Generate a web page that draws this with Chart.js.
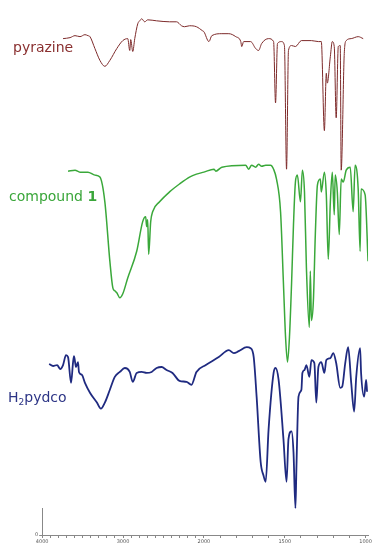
<!DOCTYPE html>
<html lang="en">
<head>
  <meta charset="UTF-8" />
  <title>IR spectra</title>
  <script src="https://cdn.jsdelivr.net/npm/chart.js"></script>
  <style>
    body { margin: 0; padding: 0; background: #fff; }
    #wrap { width: 373px; height: 546px; position: relative; }
  </style>
</head>
<body>
  <div id="wrap"><canvas id="irChart"></canvas></div>

  <script>
    // wavenumbers (cm-1) and relative transmittance (offset, arb. units)
    const pyrazineWn = [3742,3655,3594,3532,3471,3434,3409,3348,3286,3225,3163,3077,3003,2942,2917,2905,2880,2855,2818,2794,2769,2732,2695,2585,2425,2338,2277,2240,2178,2092,2018,2000,1969,1951,1889,1846,1803,1772,1766,1754,1711,1680,1662,1643,1600,1569,1557,1545,1520,1502,1489,1477,1458,1434,1397,1335,1292,1274,1255,1243,1237,1218,1206,1194,1182,1169,1157,1151,1132,1120,1089,1046,1015];
    const pyrazineT  = [95.0,95.2,95.6,95.4,95.8,95.6,95.4,93.0,90.6,89.4,90.6,93.0,94.6,95.0,92.6,94.8,92.4,95.0,98.0,98.6,99.0,98.4,98.8,98.6,98.4,98.4,97.6,97.4,97.6,97.4,96.6,96.4,94.4,95.6,96.0,96.0,95.4,94.4,93.4,94.4,94.4,93.0,92.6,94.0,95.0,94.4,82.0,94.0,94.4,93.6,68.6,92.6,93.6,93.4,94.6,94.6,94.4,94.4,76.4,88.0,86.0,91.4,94.4,93.4,79.0,93.4,93.6,68.4,92.0,94.6,95.0,95.4,95.0];

    const compoundWn = [3680,3594,3532,3434,3348,3286,3225,3163,3126,3102,3077,3040,3003,2942,2831,2757,2720,2708,2695,2683,2658,2634,2548,2425,2302,2178,2092,2000,1938,1926,1889,1742,1723,1705,1680,1662,1643,1618,1588,1569,1551,1526,1508,1495,1483,1471,1458,1446,1434,1422,1403,1391,1378,1366,1348,1342,1335,1323,1311,1298,1280,1274,1255,1243,1231,1218,1206,1194,1188,1175,1163,1151,1138,1120,1095,1077,1065,1046,1034,1028,1003,985];
    const compoundT  = [68.2,68.4,68.0,68.0,67.4,67.0,62.0,50.0,44.6,44.0,43.6,42.6,43.4,46.6,52.0,58.0,59.0,57.0,58.4,51.4,58.0,60.0,62.0,64.0,65.6,67.0,67.6,68.0,68.6,68.2,69.0,69.4,68.6,69.4,69.0,69.6,69.2,69.4,69.4,68.6,66.6,60.0,45.4,34.6,29.6,34.6,45.4,57.4,66.0,67.4,62.0,68.4,64.0,48.6,36.6,48.0,38.0,42.0,55.4,65.4,66.6,64.0,68.0,63.4,50.4,62.0,68.0,59.4,67.4,64.0,55.4,66.6,66.0,68.4,69.0,60.0,69.4,64.6,52.0,64.6,63.4,50.0];

    const ligandWn = [3914,3865,3815,3778,3742,3705,3680,3643,3618,3606,3582,3557,3545,3508,3471,3409,3323,3274,3225,3163,3102,3040,2978,2917,2880,2831,2769,2708,2646,2585,2523,2462,2388,2302,2215,2154,2092,1988,1908,1846,1815,1785,1735,1711,1692,1674,1649,1631,1618,1600,1569,1557,1538,1508,1489,1477,1458,1446,1434,1428,1415,1397,1391,1378,1366,1348,1335,1317,1305,1292,1274,1255,1243,1218,1200,1182,1157,1145,1126,1108,1089,1071,1058,1034,1028,1009,997,991];
    const ligandT  = [29.2,28.8,29.0,28.2,29.0,31.0,30.6,25.4,29.6,30.8,28.6,29.6,27.6,27.0,25.4,23.4,21.4,20.2,21.4,24.0,26.6,27.6,28.4,27.6,25.6,27.4,27.6,27.4,27.6,28.4,28.6,28.0,27.4,25.8,25.6,25.0,27.6,29.0,30.6,32.0,31.4,31.8,32.6,32.4,30.6,22.6,9.4,6.6,5.4,16.0,27.4,28.4,26.0,14.0,5.4,14.0,15.6,11.4,0.0,8.0,22.6,24.0,27.4,28.0,29.0,26.6,30.0,29.4,21.4,28.6,29.6,27.4,30.0,30.4,31.4,29.4,24.4,24.6,29.4,32.6,25.4,19.6,26.6,32.4,27.4,22.6,26.0,23.6];

    const labeledWn = [4000, 3000, 2000, 1500, 1000];

    // x axis has a scale change at 2000 cm-1 (twice as spread below it)
    function toAxis(w) { return w >= 2000 ? 4000 - w : 2000 + 2 * (2000 - w); }
    function fromAxis(u) { return u <= 2000 ? 4000 - u : 2000 - (u - 2000) / 2; }

    function pts(wn, t) { return wn.map((w, i) => ({ x: toAxis(w), y: t[i] })); }

    const seriesLabels = {
      id: 'seriesLabels',
      afterDraw(chart) {
        const c = chart.ctx;
        c.save();
        c.textBaseline = 'alphabetic';
        c.font = '14px "DejaVu Sans"';
        c.fillStyle = '#8a3030';
        c.fillText('pyrazine', 13, 52);

        c.fillStyle = '#3aa63a';
        c.fillText('compound ', 9, 201);
        let w = c.measureText('compound ').width;
        c.font = 'bold 14px "DejaVu Sans"';
        c.fillText('1', 9 + w, 201);

        c.font = '14px "DejaVu Sans"';
        c.fillStyle = '#2d3586';
        c.fillText('H', 8, 402);
        w = c.measureText('H').width;
        c.font = '9px "DejaVu Sans"';
        c.fillText('2', 8 + w, 405);
        const w2 = c.measureText('2').width;
        c.font = '14px "DejaVu Sans"';
        c.fillText('pydco', 8 + w + w2, 402);
        c.restore();
      }
    };

    new Chart(document.getElementById('irChart'), {
      type: 'line',
      data: {
        datasets: [
          { label: 'pyrazine', data: pts(pyrazineWn, pyrazineT), borderColor: '#7d2a2a', borderWidth: 1, yAxisID: 'y' },
          { label: 'compound 1', data: pts(compoundWn, compoundT), borderColor: '#3aa83a', borderWidth: 1.5, yAxisID: 'y' },
          { label: 'H2pydco', data: pts(ligandWn, ligandT), borderColor: '#1f2a80', borderWidth: 1.8, yAxisID: 'y' }
        ]
      },
      options: {
        responsive: true,
        maintainAspectRatio: false,
        animation: false,
        layout: { padding: { left: 34, right: 3, top: 0, bottom: 0 } },
        elements: {
          point: { radius: 0 },
          line: { cubicInterpolationMode: 'monotone', fill: false }
        },
        scales: {
          x: {
            type: 'linear',
            min: 0,
            max: 4030,
            afterBuildTicks: (s) => {
              const t = [];
              for (let w = 4000; w >= 1000; w -= 100) t.push({ value: toAxis(w) });
              s.ticks = t;
            },
            border: { display: true, color: '#888', width: 1 },
            grid: { drawOnChartArea: false, tickLength: 3, color: '#888' },
            ticks: {
              autoSkip: false,
              maxRotation: 0,
              padding: 1,
              color: '#555',
              font: { size: 5, family: 'DejaVu Sans' },
              callback: (v) => {
                const w = Math.round(fromAxis(v));
                return labeledWn.includes(w) ? String(w) : '';
              }
            }
          },
          y0: {
            type: 'linear',
            position: 'left',
            stack: 'v',
            stackWeight: 1,
            min: 0,
            max: 1,
            afterBuildTicks: (s) => { s.ticks = [{ value: 0 }]; },
            border: { display: true, color: '#888', width: 1 },
            grid: { drawOnChartArea: false, tickLength: 3, color: '#888' },
            ticks: { padding: 1, color: '#555', font: { size: 5, family: 'DejaVu Sans' } }
          },
          y: {
            type: 'linear',
            position: 'left',
            stack: 'v',
            stackWeight: 19,
            min: 0,
            max: 102,
            border: { display: false },
            grid: { display: false },
            ticks: { display: false }
          }
        },
        plugins: {
          legend: { display: false },
          tooltip: { enabled: false }
        }
      },
      plugins: [seriesLabels]
    });
  </script>
</body>
</html>
